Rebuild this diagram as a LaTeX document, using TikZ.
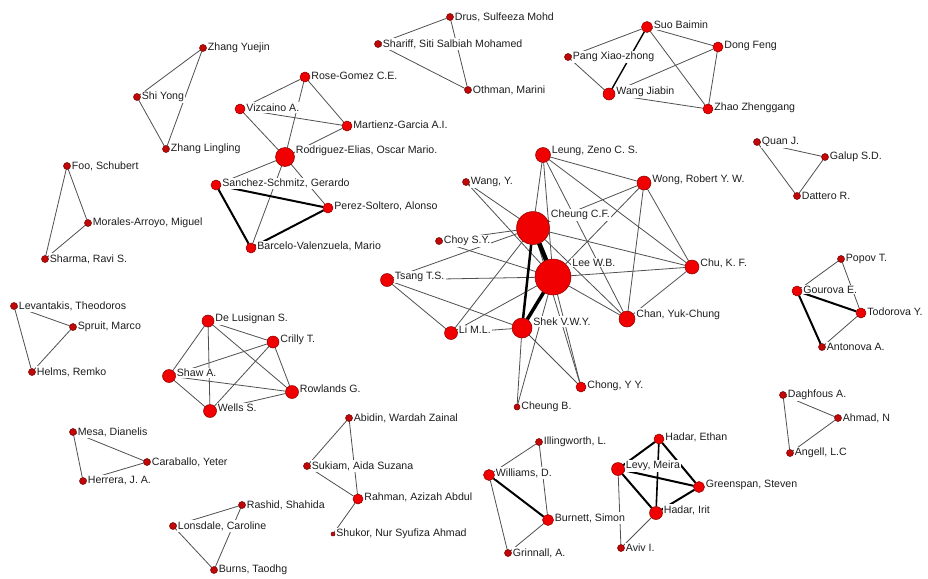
\documentclass[tikz,border=0pt]{standalone}
\usepackage{fontspec}
\setmainfont{Liberation Sans}
\pgfdeclarelayer{edgelayer}
\pgfdeclarelayer{labellayer}
\pgfsetlayers{edgelayer,labellayer,main}
\definecolor{edgegray}{HTML}{505050}
\definecolor{vertred}{HTML}{F00000}
\definecolor{smallred}{HTML}{C00808}
\definecolor{vertrim}{HTML}{8A0000}
\definecolor{labeltext}{HTML}{1E1E1E}
\tikzset{
  vert/.style={circle, fill=vertred, draw=vertrim, line width=0.5pt, inner sep=0pt, outer sep=0pt},
  smallvert/.style={vert, fill=smallred, draw=vertrim!80!black},
  lbl/.style={anchor=west, fill=white, inner sep=1.2pt, text=labeltext,
              font=\fontsize{10.6}{12}\selectfont},
  thin edge/.style={draw=edgegray, line width=0.8pt},
  heavy edge/.style={draw=black, line width=2pt},
}
% #1 name, #2 x, #3 y, #4 radius, #5 label text
\newcommand\netnode[5]{%
  \ifdim #4pt<4pt
    \node[smallvert, minimum size={2*#4pt}] (#1) at (#2,#3) {};
  \else
    \node[vert, minimum size={2*#4pt}] (#1) at (#2,#3) {};
  \fi
  \begin{pgfonlayer}{labellayer}
    \node[lbl] (#1-l) at ({#2+#4},{#3-max(0,#4-3.5)}) {#5};
  \end{pgfonlayer}}
\begin{document}
\begin{tikzpicture}[x=1pt,y=-1pt]
\useasboundingbox (0,0) rectangle (928,578);
\begin{pgfonlayer}{edgelayer}
  \fill[white] (0,0) rectangle (928,578);
\end{pgfonlayer}

% small triangle groups on the left
\netnode{zy}{203}{48}{3.5}{Zhang Yuejin}
\netnode{sy}{137}{97}{3.5}{Shi Yong}
\netnode{zl}{166}{149}{3.5}{Zhang Lingling}
\netnode{foo}{67}{166}{3.5}{Foo, Schubert}
\netnode{mor}{88}{223}{3.5}{Morales-Arroyo, Miguel}
\netnode{sha}{45}{259}{3.5}{Sharma, Ravi S.}
\netnode{lev}{14}{306}{3.5}{Levantakis, Theodoros}
\netnode{spr}{73}{327}{3.5}{Spruit, Marco}
\netnode{helms}{32}{372}{3.5}{Helms, Remko}
\netnode{mesa}{73}{432}{3.5}{Mesa, Dianelis}
\netnode{cara}{147}{462}{3.5}{Caraballo, Yeter}
\netnode{herr}{83}{481}{3.5}{Herrera, J. A.}
\netnode{rash}{242}{505}{3.5}{Rashid, Shahida}
\netnode{lons}{173}{526}{3.5}{Lonsdale, Caroline}
\netnode{burns}{214}{570}{3.5}{Burns, Taodhg}

% Rodriguez-Elias group
\netnode{rg}{305}{77}{5}{Rose-Gomez C.E.}
\netnode{viz}{240}{109}{5}{Vizcaino A.}
\netnode{mg}{347}{126}{5}{Martienz-Garcia A.I.}
\netnode{re}{285}{157}{9.5}{Rodriguez-Elias, Oscar Mario.}
\netnode{ss}{216}{185}{5}{Sanchez-Schmitz, Gerardo}
\netnode{ps}{328}{208}{5}{Perez-Soltero, Alonso}
\netnode{bv}{251}{248}{5}{Barcelo-Valenzuela, Mario}

% Drus group
\netnode{drus}{450}{17}{3.5}{Drus, Sulfeeza Mohd}
\netnode{shar}{378}{44}{3.5}{Shariff, Siti Salbiah Mohamed}
\netnode{oth}{468}{90}{3.5}{Othman, Marini}

% Suo group
\netnode{suo}{647}{27}{5.5}{Suo Baimin}
\netnode{pang}{568}{57}{3.5}{Pang Xiao-zhong}
\netnode{dong}{718}{47}{5}{Dong Feng}
\netnode{wj}{609}{94}{6}{Wang Jiabin}
\netnode{zz}{708}{109}{5}{Zhao Zhenggang}

% Quan group
\netnode{quan}{757}{142}{3.5}{Quan J.}
\netnode{galup}{825}{157}{3.5}{Galup S.D.}
\netnode{datt}{797}{196}{3.5}{Dattero R.}

% central group
\netnode{leung}{543}{155}{7.5}{Leung, Zeno C. S.}
\netnode{wang}{466}{182}{3.5}{Wang, Y.}
\netnode{wong}{644}{183}{7}{Wong, Robert Y. W.}
\netnode{cf}{533}{228}{16.5}{Cheung C.F.}
\netnode{choy}{439}{241}{3.5}{Choy S.Y.}
\netnode{lw}{553}{277}{18}{Lee W.B.}
\netnode{tsang}{387}{280}{6.5}{Tsang T.S.}
\netnode{chu}{692}{267}{7}{Chu, K. F.}
\netnode{li}{451}{333}{6.5}{Li M.L.}
\netnode{shek}{522}{328}{10}{Shek V.W.Y.}
\netnode{chan}{627}{319}{8}{Chan, Yuk-Chung}
\netnode{chong}{581}{387}{5}{Chong, Y Y.}
\netnode{cb}{517}{407}{3}{Cheung B.}

% Popov group
\netnode{popov}{841}{259}{3.5}{Popov T.}
\netnode{gour}{797}{291}{5}{Gourova E.}
\netnode{todo}{861}{313}{5}{Todorova Y.}
\netnode{anto}{822}{347}{3.5}{Antonova A.}

% De Lusignan group
\netnode{dl}{208}{321}{6}{De Lusignan S.}
\netnode{cri}{273}{342}{6}{Crilly T.}
\netnode{shaw}{169}{376}{6.5}{Shaw A.}
\netnode{row}{292}{392}{6.5}{Rowlands G.}
\netnode{wells}{210}{411}{6.5}{Wells S.}

% Abidin group
\netnode{abi}{349}{418}{3.5}{Abidin, Wardah Zainal}
\netnode{suk}{307}{466}{3.5}{Sukiam, Aida Suzana}
\netnode{rah}{358}{499}{5}{Rahman, Azizah Abdul}
\netnode{shuk}{333}{534}{2}{Shukor, Nur Syufiza Ahmad}

% Williams group
\netnode{ill}{539}{442}{3.5}{Illingworth, L.}
\netnode{wil}{489}{475}{5.5}{Williams, D.}
\netnode{bur}{548}{520}{5.5}{Burnett, Simon}
\netnode{grin}{508}{553}{3.5}{Grinnall, A.}

% Hadar group
\netnode{he}{659}{439}{5}{Hadar, Ethan}
\netnode{levy}{618}{469}{6.5}{Levy, Meira}
\netnode{gre}{699}{487}{5.5}{Greenspan, Steven}
\netnode{hi}{656}{513}{6.5}{Hadar, Irit}
\netnode{aviv}{621}{548}{3.5}{Aviv I.}

% Daghfous group
\netnode{dag}{783}{395}{3.5}{Daghfous A.}
\netnode{ahm}{838}{418}{3.5}{Ahmad, N}
\netnode{ang}{790}{453}{3.5}{Angell, L.C}

\begin{pgfonlayer}{edgelayer}
  \foreach \a/\b in {zy/sy, zy/zl, sy/zl, foo/mor, foo/sha, mor/sha,
      lev/spr, lev/helms, spr/helms, mesa/cara, mesa/herr, cara/herr,
      rash/lons, rash/burns, lons/burns,
      rg/viz, rg/re, rg/mg, viz/mg, viz/re, mg/re, re/ss, re/bv, re/ps,
      drus/shar, drus/oth, shar/oth,
      suo/pang, suo/dong, suo/zz, pang/wj, wj/dong, wj/zz, dong/zz,
      quan/galup, quan/datt, galup/datt,
      popov/gour, popov/todo, todo/anto,
      dag/ahm, dag/ang, ahm/ang,
      abi/suk, abi/rah, suk/rah, rah/shuk,
      ill/wil, ill/bur, wil/grin, bur/grin,
      levy/aviv, hi/aviv,
      dl/cri, dl/shaw, dl/wells, dl/row, cri/shaw, cri/wells, cri/row,
      shaw/wells, shaw/row, wells/row,
      leung/cf, leung/lw, leung/wong, leung/chu, leung/chan,
      wong/cf, wong/lw, wong/chan, wong/chu,
      chu/cf, chu/lw, chu/chan, chan/cf, chan/lw,
      wang/cf, wang/lw, choy/cf, choy/lw,
      tsang/cf, tsang/lw, tsang/li, tsang/shek,
      li/cf, li/lw, li/shek,
      shek/cb, shek/chong, cb/lw, chong/lw, chong/cf}
    \draw[thin edge] (\a) -- (\b);
  \foreach \a/\b in {ss/ps, ss/bv, bv/ps, gour/todo, gour/anto, wil/bur,
      he/levy, he/gre, levy/gre, levy/hi, gre/hi}
    \draw[heavy edge] (\a) -- (\b);
  \draw[draw=black, line width=1.4pt] (suo) -- (wj);
  \draw[draw=black, line width=1.6pt] (he) -- (hi);
  \draw[draw=black, line width=4.5pt] (cf) -- (lw);
  \draw[draw=black, line width=3.5pt] (lw) -- (shek);
  \draw[draw=black, line width=2.5pt] (cf) -- (shek);
\end{pgfonlayer}
\end{tikzpicture}
\end{document}
